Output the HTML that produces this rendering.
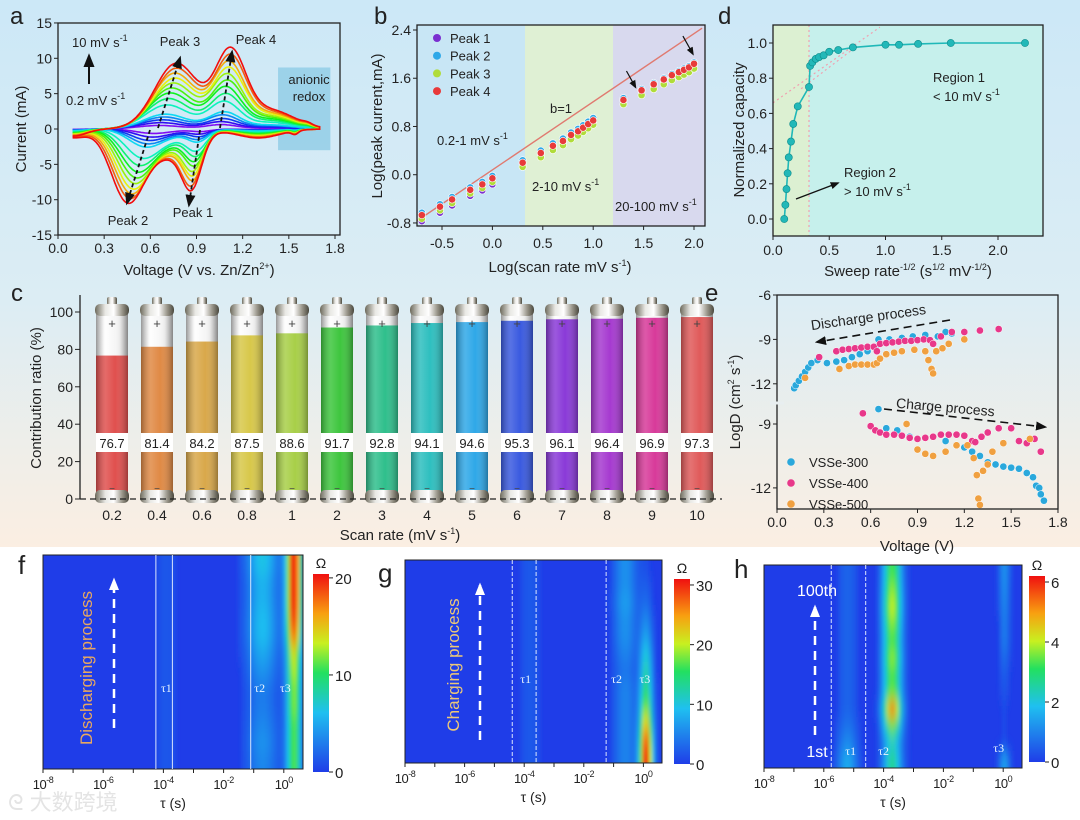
<!DOCTYPE html>
<html><head><meta charset="utf-8">
<style>
html,body{margin:0;padding:0;background:#fff}
svg{display:block;font-family:"Liberation Sans","Noto Sans CJK SC",sans-serif}
</style></head>
<body>
<svg id="fig" xmlns="http://www.w3.org/2000/svg" width="1080" height="820" viewBox="0 0 1080 820">
<defs>
<linearGradient id="bgGrad" x1="0" y1="0" x2="0" y2="1">
<stop offset="0" stop-color="#cce8f7"/><stop offset="0.55" stop-color="#dcedf4"/><stop offset="1" stop-color="#fbeee2"/>
</linearGradient>
<linearGradient id="metal" x1="0" y1="0" x2="1" y2="0">
<stop offset="0" stop-color="#6d6a5c"/><stop offset="0.3" stop-color="#e8e8e4"/><stop offset="0.55" stop-color="#ffffff"/><stop offset="0.8" stop-color="#9a968a"/><stop offset="1" stop-color="#4a483e"/>
</linearGradient>
<linearGradient id="glass" x1="0" y1="0" x2="1" y2="0">
<stop offset="0" stop-color="#d8d8d8"/><stop offset="0.25" stop-color="#ffffff"/><stop offset="0.75" stop-color="#f2f2f2"/><stop offset="1" stop-color="#bdbdbd"/>
</linearGradient>
<linearGradient id="shade" x1="0" y1="0" x2="1" y2="0">
<stop offset="0" stop-color="#000" stop-opacity="0.3"/><stop offset="0.3" stop-color="#fff" stop-opacity="0.15"/><stop offset="0.6" stop-color="#fff" stop-opacity="0"/><stop offset="1" stop-color="#000" stop-opacity="0.3"/>
</linearGradient>
<linearGradient id="jetV" x1="0" y1="1" x2="0" y2="0">
<stop offset="0" stop-color="#1f3de8"/><stop offset="0.3" stop-color="#1fc0f0"/><stop offset="0.5" stop-color="#22e060"/><stop offset="0.65" stop-color="#c8f020"/><stop offset="0.8" stop-color="#f8a010"/><stop offset="1" stop-color="#f01010"/>
</linearGradient>
<filter id="blurH" x="-5%" y="-5%" width="110%" height="110%"><feGaussianBlur stdDeviation="1.8 8"/></filter>
<clipPath id="clipF"><rect x="43" y="555" width="260" height="214"/></clipPath>
<clipPath id="clipG"><rect x="405" y="560" width="257" height="203"/></clipPath>
<clipPath id="clipH"><rect x="764" y="565" width="258" height="203"/></clipPath>
<marker id="arr" viewBox="0 0 10 10" refX="8" refY="5" markerWidth="7" markerHeight="7" orient="auto"><path d="M0,1 L10,5 L0,9 z" fill="#111"/></marker>
<marker id="arrW" viewBox="0 0 10 10" refX="8" refY="5" markerWidth="5" markerHeight="5" orient="auto"><path d="M0,1 L10,5 L0,9 z" fill="#fff"/></marker>
</defs>
<rect x="0" y="0" width="1080" height="547" fill="url(#bgGrad)"/>
<g id="root"></g>
</svg>
<script>
// ---------- DATA ----------
const cvRates = [0.2,0.4,0.6,0.8,1,2,3,4,5,6,7,8,9,10];
const cvPeak3 = [0.5,0.9,1.3,1.7,2.1,3.4,4.3,5.1,5.8,6.5,7.2,7.9,8.6,9.3];
const cvPeak4 = [0.6,1.0,1.4,1.9,2.3,3.7,4.7,5.6,6.4,7.2,8.0,8.8,9.6,10.5];
const cvPeak2 = [0.5,0.9,1.3,1.7,2.1,3.5,4.5,5.4,6.2,7.0,7.8,8.5,9.2,9.9];
const cvPeak1 = [0.3,0.6,0.9,1.2,1.5,2.5,3.1,3.6,4.1,4.6,5.1,5.6,6.1,6.6];
const cvPos3 = [0.66,0.67,0.68,0.69,0.70,0.71,0.72,0.73,0.74,0.75,0.76,0.76,0.77,0.77];
const cvPos4 = [1.06,1.06,1.07,1.07,1.08,1.08,1.09,1.09,1.10,1.10,1.11,1.11,1.12,1.12];
const cvPos2 = [0.61,0.60,0.58,0.57,0.56,0.54,0.52,0.51,0.50,0.49,0.48,0.47,0.46,0.45];
const cvPos1 = [0.93,0.92,0.92,0.91,0.91,0.90,0.90,0.89,0.89,0.88,0.88,0.88,0.87,0.87];
const bLogRate = [-0.7,-0.52,-0.4,-0.22,-0.1,0,0.3,0.48,0.6,0.7,0.78,0.85,0.9,0.95,1.0,1.3,1.48,1.6,1.7,1.78,1.85,1.9,1.95,2.0];
const bPeak1 = [-0.77,-0.63,-0.51,-0.35,-0.26,-0.16,0.18,0.34,0.46,0.54,0.64,0.70,0.76,0.82,0.88,1.23,1.38,1.48,1.56,1.63,1.68,1.72,1.76,1.82];
const bPeak2 = [-0.63,-0.49,-0.37,-0.21,-0.12,-0.02,0.24,0.40,0.52,0.60,0.70,0.76,0.82,0.88,0.94,1.27,1.42,1.52,1.60,1.67,1.72,1.76,1.80,1.86];
const bPeak3 = [-0.73,-0.59,-0.47,-0.31,-0.22,-0.12,0.13,0.29,0.41,0.49,0.59,0.65,0.71,0.77,0.83,1.17,1.32,1.42,1.50,1.57,1.62,1.66,1.70,1.76];
const bPeak4 = [-0.67,-0.53,-0.41,-0.25,-0.16,-0.06,0.20,0.36,0.48,0.56,0.66,0.72,0.78,0.84,0.90,1.24,1.40,1.50,1.58,1.65,1.70,1.74,1.78,1.84];
const cCats = ["0.2","0.4","0.6","0.8","1","2","3","4","5","6","7","8","9","10"];
const cValues = [76.7,81.4,84.2,87.5,88.6,91.7,92.8,94.1,94.6,95.3,96.1,96.4,96.9,97.3];
const dX = [0.10,0.11,0.12,0.13,0.14,0.16,0.18,0.22,0.32,0.33,0.35,0.38,0.41,0.45,0.50,0.58,0.71,1.0,1.12,1.29,1.58,2.24];
const dY = [0.0,0.08,0.17,0.26,0.35,0.44,0.54,0.64,0.75,0.87,0.89,0.91,0.92,0.93,0.95,0.96,0.975,0.99,0.99,0.995,1.0,1.0];
const eDis300V = [0.11,0.12,0.14,0.16,0.18,0.20,0.22,0.26,0.32,0.38,0.43,0.48,0.53,0.58,0.63,0.65,0.72,0.80,0.87,0.95,1.03,1.08,1.12];
const eDis300D = [-12.3,-12.1,-11.8,-11.5,-11.2,-10.9,-10.6,-10.4,-10.6,-10.5,-10.4,-10.2,-10.0,-9.8,-9.6,-9.0,-9.0,-8.9,-8.8,-8.7,-8.8,-8.5,-8.6];
const eDis400V = [0.27,0.38,0.42,0.46,0.50,0.54,0.58,0.62,0.64,0.66,0.70,0.74,0.78,0.82,0.86,0.90,0.94,0.98,1.00,1.05,1.12,1.20,1.30,1.42];
const eDis400D = [-10.2,-9.8,-9.7,-9.65,-9.6,-9.55,-9.5,-9.5,-9.8,-9.3,-9.25,-9.2,-9.15,-9.1,-9.1,-9.05,-9.0,-9.05,-9.3,-8.8,-8.5,-8.5,-8.4,-8.3];
const eDis500V = [0.18,0.40,0.46,0.50,0.54,0.58,0.62,0.64,0.66,0.70,0.75,0.80,0.88,0.95,0.97,0.99,1.00,1.02,1.06,1.10,1.20];
const eDis500D = [-11.6,-11.0,-10.8,-10.7,-10.7,-10.7,-10.7,-10.6,-10.3,-10.0,-9.9,-9.8,-9.7,-9.8,-10.4,-11.0,-11.3,-9.8,-9.6,-9.3,-9.0];
const eCh300V = [0.65,0.70,0.77,0.85,1.08,1.15,1.20,1.25,1.30,1.35,1.40,1.45,1.50,1.55,1.60,1.64,1.66,1.68,1.69,1.71];
const eCh300D = [-8.3,-9.2,-9.3,-9.6,-9.8,-10.0,-10.1,-10.3,-10.5,-10.8,-10.9,-11.0,-11.05,-11.1,-11.3,-11.5,-11.9,-12.0,-12.3,-12.6];
const eCh400V = [0.55,0.60,0.63,0.66,0.70,0.75,0.80,0.85,0.90,0.95,1.00,1.05,1.10,1.15,1.20,1.25,1.27,1.31,1.35,1.42,1.50,1.55,1.60,1.65,1.69];
const eCh400D = [-8.5,-9.1,-9.3,-9.4,-9.5,-9.5,-9.55,-9.65,-9.7,-9.65,-9.6,-9.5,-9.5,-9.5,-9.55,-9.8,-9.85,-9.6,-9.4,-9.2,-9.2,-9.8,-9.9,-9.7,-10.3];
const eCh500V = [0.83,0.90,0.95,1.00,1.08,1.15,1.22,1.26,1.28,1.29,1.30,1.32,1.35,1.38,1.45,1.62];
const eCh500D = [-9.0,-10.2,-10.4,-10.5,-10.3,-10.0,-10.0,-10.6,-11.4,-12.5,-12.8,-11.2,-10.9,-10.3,-9.9,-9.7];
const fPeakLogTau = [-3.9,-0.7,0.35];
const fPeakWidth = [0.35,0.55,0.25];
const fTau1Amp = [1.2,1.2,1.2,1.2,1.2,1.2,1.2,1.2,1.2,1.2,1.2,1.2];
const fTau2Amp = [3.5,4,3.5,3,3,4,5,6,6,5.5,5.5,6.5];
const fTau3Amp = [11,11,11,12,12,13,14,18,20,21,21,21];
const gPeakLogTau = [-3.8,-0.6,0.1];
const gPeakWidth = [0.4,0.4,0.22];
const gTau1Amp = [2,2,2,2,2,2,2,2,2,2,2,2];
const gTau2Amp = [5,5,5,5,5,4,5,6,6,7,6,6];
const gTau3Amp = [31,28,22,17,14,12,10,7,5,3,2,1];
const hPeakLogTau = [-5.2,-3.7,0.05];
const hPeakWidth = [0.35,0.32,0.18];
const hTau1Amp = [1.4,1.0,0.7,0.5,0.5,0.5,0.5,0.5,0.5,0.5,0.5,0.5];
const hTau2Amp = [2.4,2.0,3.2,4.8,3.2,3.0,3.4,3.0,3.3,3.7,3.4,3.0];
const hTau3Amp = [1.3,0.2,0.2,0.2,0.3,0.4,0.6,0.8,0.8,0.9,1.0,1.1];

// ---------- HELPERS ----------
const NS = "http://www.w3.org/2000/svg";
const root = document.getElementById("root");
function mk(tag, attrs, parent){const e=document.createElementNS(NS,tag);for(const k in attrs)e.setAttribute(k,attrs[k]);(parent||root).appendChild(e);return e;}
function txt(x,y,s,size,anchor,parent,extra){const t=mk("text",Object.assign({x:x,y:y,"font-size":size,"text-anchor":anchor||"middle",fill:"#222"},extra||{}),parent);t.innerHTML=s;return t;}
function grp(){return mk("g",{});}

// ---------- PANEL A ----------
(function(){
const g=grp();


const xa=v=>58+v*(277/1.8), ya=i=>129-i*7.07;
const box=mk("rect",{x:58,y:23,width:282,height:212,fill:"none",stroke:"#222","stroke-width":1.3},g);


const ar=mk("rect",{x:xa(1.43),y:ya(8.7),width:xa(1.77)-xa(1.43),height:ya(-3)-ya(8.7),fill:"#8fcce6",opacity:0.8},g);


const G=(v,p,w)=>Math.exp(-Math.pow((v-p)/w,2));
for(let k=0;k<cvRates.length;k++){
  const s=cvPeak4[k]/10.5;
  let up=[],lo=[];
  for(let v=0.1;v<=1.7001;v+=0.01){
    const u=cvPeak3[k]*G(v,cvPos3[k],0.2)+cvPeak4[k]*G(v,cvPos4[k],0.14)+0.25*cvPeak4[k]*G(v,1.38,0.22)+0.25*s*10*0.1*G(v,1.62,0.04)-1*s*G(v,0.1,0.12);
    const l=-(cvPeak2[k]*G(v,cvPos2[k],0.15)+cvPeak1[k]*G(v,cvPos1[k],0.09)+0.55*cvPeak1[k]*G(v,0.72,0.2))-0.12*cvPeak4[k]*G(v,1.3,0.2)-0.25*s*G(v,1.54,0.03)*2-1.2*s*G(v,0.1,0.12);
    up.push([xa(v),ya(u)]);lo.push([xa(v),ya(l)]);
  }
  const pts=up.concat(lo.reverse());
  const hue=270-270*k/(cvRates.length-1);
  const p=mk("path",{d:"M"+pts.map(q=>q[0].toFixed(1)+","+q[1].toFixed(1)).join("L")+"Z",fill:"none",stroke:"hsl("+hue+",90%,50%)","stroke-width":1.6},g);
  
  
}
const yt=[15,10,5,0,-5,-10,-15];
yt.forEach(v=>{mk("line",{x1:54,x2:58,y1:ya(v),y2:ya(v),stroke:"#222"},g);const t=txt(52,ya(v)+5,v,14,"end",g);});
[0,0.3,0.6,0.9,1.2,1.5,1.8].forEach(v=>{mk("line",{x1:xa(v),x2:xa(v),y1:235,y2:239,stroke:"#222"},g);const t=txt(xa(v),253,v.toFixed(1),14,"middle",g);});
const xt=txt(199,275,"Voltage (V vs. Zn/Zn<tspan font-size='9' dy='-6'>2+</tspan><tspan dy='6'>)</tspan>",15,"middle",g);

const yl=txt(0,0,"Current (mA)",15,"middle",g,{transform:"translate(26,129) rotate(-90)"});

const L=txt(10,24,"a",24,"start",g);
txt(72,47,"10 mV s<tspan font-size='9' dy='-6'>-1</tspan>",13,"start",g);
txt(66,105,"0.2 mV s<tspan font-size='9' dy='-6'>-1</tspan>",13,"start",g);
mk("line",{x1:89,y1:84,x2:89,y2:56,stroke:"#111","stroke-width":2,"marker-end":"url(#arr)"},g);
txt(180,46,"Peak 3",13,"middle",g);txt(256,44,"Peak 4",13,"middle",g);
txt(128,225,"Peak 2",13,"middle",g);txt(193,217,"Peak 1",13,"middle",g);
txt(309,84,"anionic",13,"middle",g);txt(309,101,"redox",13,"middle",g);
[[158,128,180,58],[220,128,232,52],[150,130,127,203],[200,130,189,205]].forEach(a=>{const l=mk("line",{x1:a[0],y1:a[1],x2:a[2],y2:a[3],stroke:"#111","stroke-width":1.8,"stroke-dasharray":"4,3","marker-end":"url(#arr)"},g);});
})();

// ---------- PANEL B ----------
(function(){
const g=grp();


const xb=v=>442+(v+0.5)*100.8, yb=v=>30+(2.4-v)*60.3;
mk("rect",{x:417,y:25,width:108,height:201,fill:"#c8e6f5"},g);
mk("rect",{x:525,y:25,width:88,height:201,fill:"#dff0d4"},g);
mk("rect",{x:613,y:25,width:92,height:201,fill:"#d8d9ee"},g);
const ln=mk("line",{x1:xb(-0.75),y1:yb(1.13*-0.75+0.08),x2:xb(2.08),y2:yb(2.43),stroke:"#e07a70","stroke-width":1.4},g);

const series=[[bPeak1,"#7a2fd0","Peak 1"],[bPeak2,"#2ea8e8","Peak 2"],[bPeak3,"#b0dc3a","Peak 3"],[bPeak4,"#e83a3a","Peak 4"]];
series.forEach((s,si)=>{
  s[0].forEach((v,i)=>{const c=mk("circle",{cx:xb(bLogRate[i]),cy:yb(v),r:3.6,fill:s[1],stroke:"#fff","stroke-width":0.6},g);
    
    });
  const lc=mk("circle",{cx:437,cy:38+si*17.7,r:4,fill:s[1]},g);
  
  const lt=txt(450,43+si*17.7,s[2],13,"start",g);
  
});
mk("rect",{x:417,y:25,width:288,height:201,fill:"none",stroke:"#222","stroke-width":1.3},g);
[2.4,1.6,0.8,0.0,-0.8].forEach(v=>{mk("line",{x1:413,x2:417,y1:yb(v),y2:yb(v),stroke:"#222"},g);const t=txt(411,yb(v)+5,v.toFixed(1),14,"end",g);});
[-0.5,0,0.5,1,1.5,2].forEach(v=>{mk("line",{x1:xb(v),x2:xb(v),y1:226,y2:230,stroke:"#222"},g);const t=txt(xb(v),248,v.toFixed(1),14,"middle",g);});
const xt=txt(560,272,"Log(scan rate mV s<tspan font-size='9' dy='-6'>-1</tspan><tspan dy='6'>)</tspan>",15,"middle",g);
const yt=txt(0,0,"Log(peak current,mA)",15,"middle",g,{transform:"translate(382,126) rotate(-90)"});
const L=txt(374,24,"b",24,"start",g);
txt(561,113,"b=1",13,"middle",g);
txt(437,145,"0.2-1 mV s<tspan font-size='9' dy='-6'>-1</tspan>",13,"start",g);
txt(532,191,"2-10 mV s<tspan font-size='9' dy='-6'>-1</tspan>",13,"start",g);
txt(615,211,"20-100 mV s<tspan font-size='9' dy='-6'>-1</tspan>",13,"start",g);
mk("line",{x1:xb(1.33),y1:yb(1.72),x2:xb(1.42),y2:yb(1.45),stroke:"#111","stroke-width":1.2,"marker-end":"url(#arr)"},g);
mk("line",{x1:xb(1.89),y1:yb(2.3),x2:xb(1.99),y2:yb(2.0),stroke:"#111","stroke-width":1.2,"marker-end":"url(#arr)"},g);
})();

// ---------- PANEL D ----------
(function(){
const g=grp();


const xd=v=>773+v*112.5, yd=v=>219-v*176;
mk("rect",{x:773,y:25,width:xd(0.32)-773,height:211,fill:"#dcf0d2"},g);
mk("rect",{x:xd(0.32),y:25,width:1043-xd(0.32),height:211,fill:"#c6f0ec"},g);
mk("line",{x1:xd(0.32),y1:25,x2:xd(0.32),y2:236,stroke:"#f0a0b0","stroke-dasharray":"2,3","stroke-width":1.2},g);
mk("line",{x1:773,y1:yd(0.66),x2:xd(0.95),y2:yd(1.09),stroke:"#f0a0b0","stroke-dasharray":"2,3","stroke-width":1.2},g);
mk("line",{x1:xd(0.25),y1:yd(0.74),x2:xd(0.7),y2:yd(0.96),stroke:"#f0a0b0","stroke-dasharray":"2,3","stroke-width":1.2},g);
const pl=mk("polyline",{points:dX.map((x,i)=>xd(x).toFixed(1)+","+yd(dY[i]).toFixed(1)).join(" "),fill:"none",stroke:"#1fb8b8","stroke-width":1.6},g);

dX.forEach((x,i)=>{const c=mk("circle",{cx:xd(x),cy:yd(dY[i]),r:3.6,fill:"#22b8b8",stroke:"#0d8c8c","stroke-width":0.6},g);});
mk("rect",{x:773,y:25,width:270,height:211,fill:"none",stroke:"#222","stroke-width":1.3},g);
[0,0.2,0.4,0.6,0.8,1.0].forEach(v=>{mk("line",{x1:769,x2:773,y1:yd(v),y2:yd(v),stroke:"#222"},g);const t=txt(767,yd(v)+5,v.toFixed(1),14,"end",g);});
[0,0.5,1,1.5,2].forEach(v=>{mk("line",{x1:xd(v),x2:xd(v),y1:236,y2:240,stroke:"#222"},g);const t=txt(xd(v),255,v.toFixed(1),14,"middle",g);});
const xt=txt(908,276,"Sweep rate<tspan font-size='9' dy='-6'>-1/2</tspan><tspan dy='6'> (s</tspan><tspan font-size='9' dy='-6'>1/2</tspan><tspan dy='6'> mV</tspan><tspan font-size='9' dy='-6'>-1/2</tspan><tspan dy='6'>)</tspan>",15,"middle",g);
const yt=txt(0,0,"Normalized capacity",15,"middle",g,{transform:"translate(744,130) rotate(-90)"});
const L=txt(718,24,"d",24,"start",g);
txt(933,82,"Region 1",13,"start",g);txt(933,101,"&lt; 10 mV s<tspan font-size='9' dy='-6'>-1</tspan>",13,"start",g);
txt(844,177,"Region 2",13,"start",g);txt(844,196,"&gt; 10 mV s<tspan font-size='9' dy='-6'>-1</tspan>",13,"start",g);
mk("line",{x1:796,y1:199,x2:838,y2:183,stroke:"#111","stroke-width":1.3,"marker-end":"url(#arr)"},g);
})();

// ---------- PANEL C ----------
(function(){
const g=grp();


const yc=v=>499-v*1.87, xc=i=>112+i*45;
const cols=["#e0504e","#e08a45","#d9a84a","#d8c84a","#a8cf48","#3ec63e","#2fbf8c","#2ebfbf","#2fa8e8","#3a5ae0","#8a3ad8","#a63ad0","#d83a9a","#e05a5a"];
cValues.forEach((v,i)=>{
  const cx=xc(i), w=32, x0=cx-w/2;
  const b=mk("g",{},g);
  
  
  mk("rect",{x:x0,y:312,width:w,height:184,fill:"url(#glass)"},b);
  const f=mk("rect",{x:x0,y:yc(v),width:w,height:493-yc(v),fill:cols[i]},b);
  
  
  mk("rect",{x:x0,y:312,width:w,height:184,fill:"url(#shade)"},b);
  mk("rect",{x:cx-5,y:297,width:10,height:8,rx:2,fill:"url(#metal)"},b);
  mk("rect",{x:x0-1,y:304,width:w+2,height:12,rx:5,fill:"url(#metal)"},b);
  mk("rect",{x:x0-1,y:490,width:w+2,height:13,rx:5,fill:"url(#metal)"},b);
  txt(cx,328,"+",13,"middle",b,{fill:"#444"});
  txt(cx,492,"−",10,"middle",b,{fill:"#444"});
  mk("rect",{x:x0,y:433,width:w,height:19,fill:"#fff"},b);
  const vt=txt(cx,448,v.toFixed(1),13,"middle",b);
  
  const ct=txt(cx,520,cCats[i],14,"middle",g);
  
});
mk("line",{x1:80,y1:499,x2:722,y2:499,stroke:"#222","stroke-dasharray":"6,4","stroke-width":1.2},g);
mk("line",{x1:80,y1:295,x2:80,y2:499,stroke:"#222","stroke-width":1.3},g);
[0,20,40,60,80,100].forEach(v=>{mk("line",{x1:75,x2:80,y1:yc(v),y2:yc(v),stroke:"#222"},g);const t=txt(73,yc(v)+5,v,14,"end",g);});
const xt=txt(400,540,"Scan rate (mV s<tspan font-size='9' dy='-6'>-1</tspan><tspan dy='6'>)</tspan>",15,"middle",g);
const yt=txt(0,0,"Contribution ratio (%)",15,"middle",g,{transform:"translate(41,398) rotate(-90)"});
const L=txt(11,301,"c",24,"start",g);
})();

// ---------- PANEL E ----------
(function(){
const g=grp();


const xe=v=>777+v*156.1, yT=v=>295+(-6-v)*14.8, yB=v=>424+(-9-v)*21.3;
const sets=[[eDis300V,eDis300D,"#2aa8dc",yT,"vsse-300-discharge"],[eDis400V,eDis400D,"#e8388a",yT,"vsse-400-discharge"],[eDis500V,eDis500D,"#f0a040",yT,"vsse-500-discharge"],
            [eCh300V,eCh300D,"#2aa8dc",yB,"vsse-300-charge"],[eCh400V,eCh400D,"#e8388a",yB,"vsse-400-charge"],[eCh500V,eCh500D,"#f0a040",yB,"vsse-500-charge"]];
sets.forEach(s=>{s[0].forEach((v,i)=>{const c=mk("circle",{cx:xe(v),cy:s[3](s[1][i]),r:3.6,fill:s[2],stroke:"#fff","stroke-width":0.5},g);});});
mk("rect",{x:777,y:295,width:281,height:214,fill:"none",stroke:"#222","stroke-width":1.3},g);
mk("line",{x1:770,y1:403,x2:784,y2:403,stroke:"#e8eef0","stroke-width":3},g);
[[-6,yT],[-9,yT],[-12,yT],[-9,yB],[-12,yB]].forEach(a=>{mk("line",{x1:773,x2:777,y1:a[1](a[0]),y2:a[1](a[0]),stroke:"#222"},g);const t=txt(771,a[1](a[0])+5,a[0],14,"end",g);});
[0,0.3,0.6,0.9,1.2,1.5,1.8].forEach(v=>{mk("line",{x1:xe(v),x2:xe(v),y1:509,y2:513,stroke:"#222"},g);const t=txt(xe(v),527,v.toFixed(1),14,"middle",g);});
const xt=txt(917,551,"Voltage (V)",15,"middle",g);
const yt=txt(0,0,"LogD (cm<tspan font-size='9' dy='-6'>2</tspan><tspan dy='6'> s</tspan><tspan font-size='9' dy='-6'>-1</tspan><tspan dy='6'>)</tspan>",15,"middle",g,{transform:"translate(740,402) rotate(-90)"});
const L=txt(705,301,"e",24,"start",g);
txt(0,0,"Discharge process",14,"middle",g,{transform:"translate(869,322) rotate(-8)"});
mk("line",{x1:950,y1:320,x2:817,y2:342,stroke:"#111","stroke-width":1.6,"stroke-dasharray":"8,5","marker-end":"url(#arr)"},g);
txt(0,0,"Charge process",14,"middle",g,{transform:"translate(945,412) rotate(5)"});
mk("line",{x1:884,y1:409,x2:1045,y2:427,stroke:"#111","stroke-width":1.6,"stroke-dasharray":"8,5","marker-end":"url(#arr)"},g);
[["VSSe-300","#2aa8dc"],["VSSe-400","#e8388a"],["VSSe-500","#f0a040"]].forEach((l,i)=>{const c=mk("circle",{cx:791,cy:462+i*21,r:3.8,fill:l[1]},g);const t=txt(809,467+i*21,l[0],13,"start",g);});
})();

// ---------- HEATMAPS ----------
const stops=[[0,[31,61,232]],[0.3,[31,192,240]],[0.5,[34,224,96]],[0.65,[200,240,32]],[0.8,[248,160,16]],[1,[240,16,16]]];
function jet(t){t=Math.max(0,Math.min(1,t));for(let i=1;i<stops.length;i++){if(t<=stops[i][0]){const a=stops[i-1],b=stops[i],f=(t-a[0])/(b[0]-a[0]);return "rgb("+a[1].map((c,j)=>Math.round(c+(b[1][j]-c)*f)).join(",")+")";}}return "rgb(240,16,16)";}
function heat(cfg){
  const g=grp();
  
  
  const {x0,y0,w,h,vmax,pos,wid,amps,clip}=cfg;
  const cmax=cfg.cmax||vmax;
  const decPx=cfg.decPx;
  const lt=x=>x0+(x+8)*decPx;
  mk("rect",{x:x0,y:y0,width:w,height:h,fill:jet(0)},g);
  const cells=mk("g",{"clip-path":"url(#"+clip+")"},g);
  const inner=mk("g",{filter:"url(#blurH)"},cells);
  const nx=80, ny=amps[0].length, cw=w/nx, ch=h/ny;
  const lmax=-8+w/decPx;
  for(let r=-1;r<=ny;r++){
    const rr=Math.max(0,Math.min(ny-1,r));
    for(let c=0;c<nx;c++){
      const lx=-8+(c+0.5)*(lmax+8)/nx;
      let v=0;for(let p=0;p<pos.length;p++)v+=amps[p][rr]*Math.exp(-Math.pow((lx-pos[p])/wid[p],2));
      if(v<0.03*cmax)continue;
      const cell=mk("rect",{x:x0+c*cw-0.3,y:y0+h-(r+1)*ch-0.3,width:cw+0.6,height:ch+0.6,fill:jet(v/cmax)},inner);
      
      
    }
  }
  mk("rect",{x:x0,y:y0,width:w,height:h,fill:"none",stroke:"#222","stroke-width":1},g);
  for(let d=-8;d<=0;d++){mk("line",{x1:lt(d),x2:lt(d),y1:y0+h,y2:y0+h+4,stroke:"#222"},g);
    if(d%2===0){const t=txt(lt(d),y0+h+20,"10<tspan font-size='9' dy='-6'>"+d+"</tspan>",13,"middle",g,{"letter-spacing":"-0.5"});}}
  const tt=txt(x0+w/2,y0+h+39,"τ (s)",14,"middle",g);
  const cb=mk("rect",{x:cfg.cbx,y:cfg.cby,width:16,height:cfg.cbh,fill:"url(#jetV)"},g);
  
  txt(cfg.cbx+8,cfg.cby-6,"Ω",14,"middle",g);
  cfg.cbTicks.forEach(v=>{const y=cfg.cby+cfg.cbh-v/vmax*cfg.cbh;mk("line",{x1:cfg.cbx+16,x2:cfg.cbx+20,y1:y,y2:y,stroke:"#222"},g);const t=txt(cfg.cbx+22,y+6,v,15,"start",g);});
  const L=txt(cfg.lx,cfg.ly,cfg.letter,26,"start",g);
  cfg.taus.forEach((tp,i)=>{txt(lt(tp[0]),tp[1],"τ"+(i+1),12,"middle",g,{fill:"#e8f4ff","font-family":"Liberation Serif, serif"});});
  (cfg.contours||[]).forEach(cx=>{const l=mk("line",{x1:lt(cx),x2:lt(cx),y1:y0,y2:y0+h,stroke:"#e8f0ff","stroke-width":1.1,opacity:0.85,"stroke-dasharray":cfg.dash||"none"},g);});
  return {g,lt};
}
(function(){
const f=heat({name:"panel-f-heatmap",x0:43,y0:555,w:260,h:214,decPx:30.1,vmax:20.4,pos:fPeakLogTau,wid:fPeakWidth,amps:[fTau1Amp,fTau2Amp,fTau3Amp],clip:"clipF",cbx:313,cby:574,cbh:198,cbTicks:[0,10,20],lx:18,ly:574,letter:"f",taus:[[-3.9,692],[-0.8,692],[0.05,692]],contours:[-4.25,-3.7,-1.1]});
const a=mk("line",{x1:114,y1:728,x2:114,y2:580,stroke:"#fff","stroke-width":2.5,"stroke-dasharray":"9,6","marker-end":"url(#arrW)"},f.g);

const t=txt(0,0,"Discharging process",17,"middle",f.g,{fill:"#e8a860",transform:"translate(92,668) rotate(-90)"});

const g=heat({name:"panel-g-heatmap",x0:405,y0:560,w:257,h:203,decPx:29.8,vmax:31,pos:gPeakLogTau,wid:gPeakWidth,amps:[gTau1Amp,gTau2Amp,gTau3Amp],clip:"clipG",cbx:674,cby:579,cbh:185,cbTicks:[0,10,20,30],lx:378,ly:582,letter:"g",taus:[[-3.95,683],[-0.9,683],[0.05,683]],contours:[-4.4,-3.6,-1.25],dash:"4,2"});
const a2=mk("line",{x1:480,y1:740,x2:480,y2:585,stroke:"#fff","stroke-width":2.5,"stroke-dasharray":"9,6","marker-end":"url(#arrW)"},g.g);

const t2=txt(0,0,"Charging process",17,"middle",g.g,{fill:"#ecc878",transform:"translate(459,665) rotate(-90)"});

const h=heat({name:"panel-h-heatmap",x0:764,y0:565,w:258,h:203,decPx:29.9,vmax:6.2,cmax:5.6,pos:hPeakLogTau,wid:hPeakWidth,amps:[hTau1Amp,hTau2Amp,hTau3Amp],clip:"clipH",cbx:1029,cby:576,cbh:186,cbTicks:[0,2,4,6],lx:734,ly:578,letter:"h",taus:[[-5.1,755],[-4.0,755],[-0.15,752]],contours:[-5.75,-4.6],dash:"4,2"});
const a3=mk("line",{x1:815,y1:735,x2:815,y2:607,stroke:"#fff","stroke-width":2.5,"stroke-dasharray":"9,6","marker-end":"url(#arrW)"},h.g);

const t3=txt(817,596,"100th",16,"middle",h.g,{fill:"#fff"});
const t4=txt(817,757,"1st",16,"middle",h.g,{fill:"#fff"});
const wm=txt(8,810,"ᘓ 大数跨境",22,"start",null,{fill:"#e4e4e4","font-family":"Liberation Sans, WenQuanYi Zen Hei, sans-serif"});

})();
</script>
</body></html>
